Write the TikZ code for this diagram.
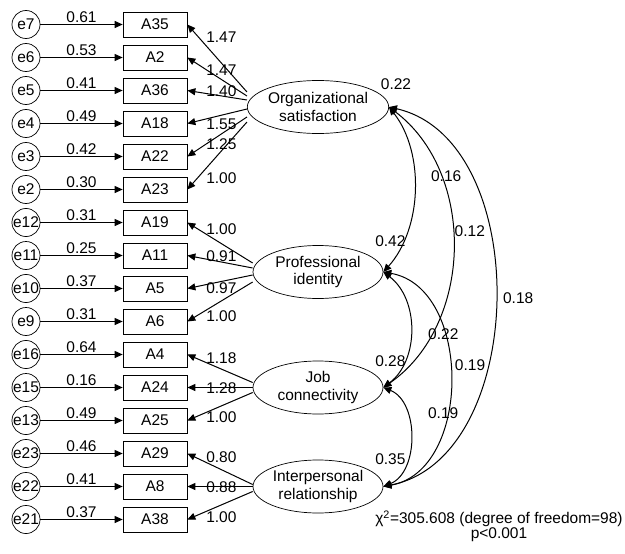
\documentclass[tikz,border=0pt]{standalone}
\usepackage{fontspec}
\setmainfont{Liberation Sans}
\usetikzlibrary{shapes.geometric,arrows.meta,chains,positioning,calc}

\begin{document}
\begin{tikzpicture}[%
    x=1pt, y=-1pt,                  % pixel-like units, y grows downward
    >={Triangle[length=8pt,width=7pt]},
    start chain=going below,        % Items are stacked top-to-bottom
    node distance=33pt and 129pt,   % Row pitch and item-to-error spacing
    ]
% -------------------------------------------------
% A few box styles
\tikzset{
  base/.style={draw, on grid, align=center, line width=0.7pt,
    font=\fontsize{15.5}{17.5}\selectfont},
  item/.style={base, on chain, rectangle, minimum width=64pt,
    minimum height=25pt, inner sep=0pt},
  err/.style={base, circle, minimum size=28pt, inner sep=0pt},
  factor/.style={base, ellipse, minimum width=130pt, minimum height=53pt,
    inner sep=0pt},
  coef/.style={font=\fontsize{15.5}{17.5}\selectfont, inner sep=1pt},
  % Connector line styles
  res/.style={->, line width=1pt},
  load/.style={->, line width=1pt},
  cov/.style={<->, line width=1pt},
}
\useasboundingbox (0,0) rectangle (625,554);
% -------------------------------------------------
% Start by placing the nodes

\node [item] (a35) at (155,24.5) {A35};
\node [item] (a2) {A2};
\node [item] (a36) {A36};
\node [item] (a18) {A18};
\node [item] (a22) {A22};
\node [item] (a23) {A23};
\node [item] (a19) {A19};
\node [item] (a11) {A11};
\node [item] (a5) {A5};
\node [item] (a6) {A6};
\node [item] (a4) {A4};
\node [item] (a24) {A24};
\node [item] (a25) {A25};
\node [item] (a29) {A29};
\node [item] (a8) {A8};
\node [item] (a38) {A38};

\node [err, left = of a35] (e7) {e7};
\node [err, left = of a2] (e6) {e6};
\node [err, left = of a36] (e5) {e5};
\node [err, left = of a18] (e4) {e4};
\node [err, left = of a22] (e3) {e3};
\node [err, left = of a23] (e2) {e2};
\node [err, left = of a19] (e12) {e12};
\node [err, left = of a11] (e11) {e11};
\node [err, left = of a5] (e10) {e10};
\node [err, left = of a6] (e9) {e9};
\node [err, left = of a4] (e16) {e16};
\node [err, left = of a24] (e15) {e15};
\node [err, left = of a25] (e13) {e13};
\node [err, left = of a29] (e23) {e23};
\node [err, left = of a8] (e22) {e22};
\node [err, left = of a38] (e21) {e21};

\node [factor] (os) at ($(a36)!.5!(a18)+(163,0)$) {Organizational\\satisfaction};
\node [factor] (pi) at ($(a11)!.5!(a5)+(163,0)$) {Professional\\identity};
\node [factor] (jc) at ($(a24)+(163,0)$) {Job\\connectivity};
\node [factor] (ir) at ($(a8)+(163,0)$) {Interpersonal\\relationship};

\node [coef, above = 16pt of os.east, xshift=7pt] (vos) {0.22};
\node [coef, above = 24.5pt of pi.east, xshift=7pt] (vpi) {0.42};
\node [coef, above = 20pt of jc.east, xshift=7pt] (vjc) {0.28};
\node [coef, above = 21pt of ir.east, xshift=7pt] (vir) {0.35};

\node [coef, align=center, font=\fontsize{15.5}{15}\selectfont] (chisq) at (499,526.5)
  {χ\textsuperscript{2}=305.608 (degree of freedom=98)\\p<0.001};

% -------------------------------------------------
% Error terms
\draw[res] (e7) -- node[coef, above] {0.61} (a35);
\draw[res] (e6) -- node[coef, above] {0.53} (a2);
\draw[res] (e5) -- node[coef, above] {0.41} (a36);
\draw[res] (e4) -- node[coef, above] {0.49} (a18);
\draw[res] (e3) -- node[coef, above] {0.42} (a22);
\draw[res] (e2) -- node[coef, above] {0.30} (a23);
\draw[res] (e12) -- node[coef, above] {0.31} (a19);
\draw[res] (e11) -- node[coef, above] {0.25} (a11);
\draw[res] (e10) -- node[coef, above] {0.37} (a5);
\draw[res] (e9) -- node[coef, above] {0.31} (a6);
\draw[res] (e16) -- node[coef, above] {0.64} (a4);
\draw[res] (e15) -- node[coef, above] {0.16} (a24);
\draw[res] (e13) -- node[coef, above] {0.49} (a25);
\draw[res] (e23) -- node[coef, above] {0.46} (a29);
\draw[res] (e22) -- node[coef, above] {0.41} (a8);
\draw[res] (e21) -- node[coef, above] {0.37} (a38);

% Loadings
\draw[load] ([yshift=15pt]os.west) -- (a35.east) node[coef, xshift=34pt, yshift=-12.5pt] {1.47};	%Organizational satisfaction,A35
\draw[load] ([yshift=11pt]os.west) -- (a2.east) node[coef, xshift=34pt, yshift=-12.5pt] {1.47};	%Organizational satisfaction,A2
\draw[load] ([yshift=7pt]os.west) -- (a36.east) node[coef, xshift=34pt, yshift=-0.5pt] {1.40};	%Organizational satisfaction,A36
\draw[load] ([yshift=-2pt]os.west) -- (a18.east) node[coef, xshift=34pt, yshift=-0.5pt] {1.55};	%Organizational satisfaction,A18
\draw[load] ([yshift=-10pt]os.west) -- (a22.east) node[coef, xshift=34pt, yshift=12.5pt] {1.25};	%Organizational satisfaction,A22
\draw[load] ([yshift=-15pt]os.west) -- (a23.east) node[coef, xshift=34pt, yshift=11.5pt] {1.00};	%Organizational satisfaction,A23
\draw[load] ([yshift=9pt]pi.west) -- (a19.east) node[coef, xshift=34pt, yshift=-6.5pt] {1.00};	%Professional identity,A19
\draw[load] ([yshift=4pt]pi.west) -- (a11.east) node[coef, xshift=34pt, yshift=-1pt] {0.91};	%Professional identity,A11
\draw[load] ([yshift=-3pt]pi.west) -- (a5.east) node[coef, xshift=34pt] {0.97};	%Professional identity,A5
\draw[load] ([yshift=-10pt]pi.west) -- (a6.east) node[coef, xshift=34pt, yshift=5.5pt] {1.00};	%Professional identity,A6
\draw[load] ([yshift=5pt]jc.west) -- (a4.east) node[coef, xshift=34pt, yshift=-3.5pt] {1.18};	%Job connectivity,A4
\draw[load] (jc.west) -- (a24.east) node[coef, xshift=34pt, yshift=-1pt] {1.28};	%Job connectivity,A24
\draw[load] ([yshift=-5pt]jc.west) -- (a25.east) node[coef, xshift=34pt, yshift=3.5pt] {1.00};	%Job connectivity,A25
\draw[load] ([yshift=2pt]ir.west) -- (a29.east) node[coef, xshift=34pt, yshift=-3.5pt] {0.80};	%Interpersonal relationship,A29
\draw[load] (ir.west) -- (a8.east) node[coef, xshift=34pt, yshift=-1pt] {0.88};	%Interpersonal relationship,A8
\draw[load] ([yshift=-5pt]ir.west) -- (a38.east) node[coef, xshift=34pt, yshift=2.5pt] {1.00};	%Interpersonal relationship,A38

% Covariances
\draw[cov] (os.east) to [bend left=40, looseness=0.9] node[coef, xshift=32pt, yshift=14.5pt] {0.16} (pi.east);	%Organizational satisfaction,Professional identity
\draw[cov] (os.east) to [bend left=54] node[coef, xshift=17pt, yshift=17pt] {0.12} (jc.east);	%Organizational satisfaction,Job connectivity
\draw[cov] (os.east) to [bend left=78] node[coef, xshift=23pt] {0.18} (ir.east);	%Organizational satisfaction,Interpersonal relationship
\draw[cov] (pi.east) to [bend left=53] node[coef, xshift=33pt, yshift=-4pt] {0.22} (jc.east);	%Professional identity,Job connectivity
\draw[cov] (pi.east) to [bend left=80, looseness=1.08] node[coef, xshift=20pt, yshift=14pt] {0.19} (ir.east);	%Professional identity,Interpersonal relationship
\draw[cov] (jc.east) to [bend left=68] node[coef, xshift=33pt, yshift=24pt] {0.19} (ir.east);	%Job connectivity,Interpersonal relationship

% -------------------------------------------------
\end{tikzpicture}
\end{document}
